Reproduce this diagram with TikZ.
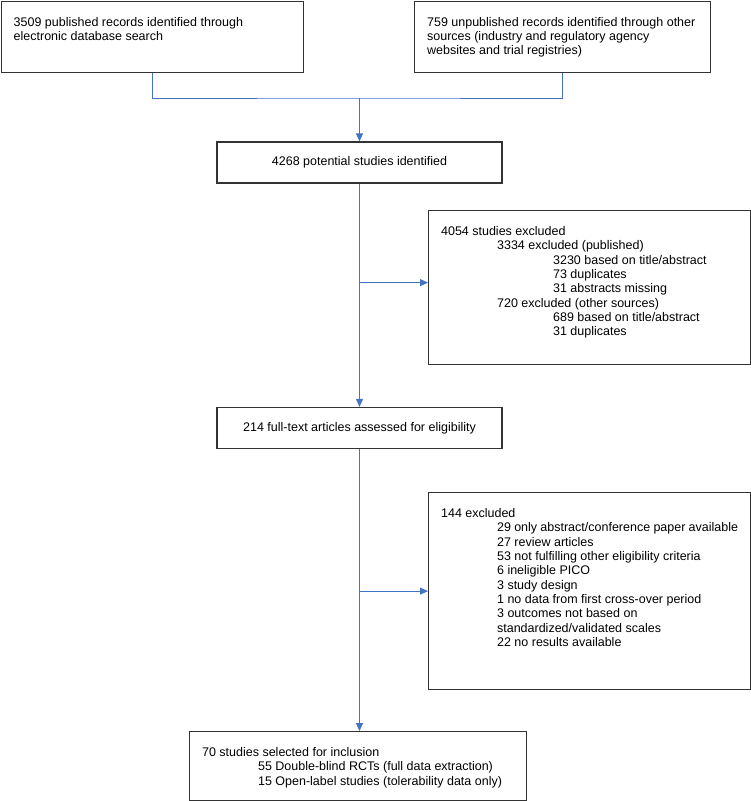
\documentclass[tikz,border=0pt]{standalone}
\usepackage{fontspec}
\setmainfont{Liberation Sans}
\usepackage{tikz}
\usetikzlibrary{arrows.meta,positioning}
\definecolor{boxline}{HTML}{333333}
\definecolor{flowblue}{HTML}{4472C4}
\tikzstyle{block} = [rectangle, draw=boxline, line width=1.2pt, inner xsep=12.5pt, inner ysep=0pt, anchor=north west]
\tikzstyle{midblock} = [rectangle, draw=boxline, line width=1.2pt, inner sep=0pt, minimum width=285pt, minimum height=41pt]
\tikzstyle{flow} = [draw=flowblue, line width=0.9pt]
\newcommand{\Boxtxt}[3]{\parbox[t][#2][t]{#1}{\vspace*{16pt}#3}}
\newcommand{\Ind}{\hspace*{56pt}}

\begin{document}
\begin{tikzpicture}[x=1pt, y=-1pt, >={Triangle[length=8pt,width=7pt]}, font=\fontsize{12.5}{14.3}\selectfont]
	\useasboundingbox (0,0) rectangle (751,801);
	\node[block] (pub) at (0.6,0.6) {\Boxtxt{277pt}{71pt}{3509 published records identified through\\electronic database search}};
	\node[block] (reg) at (414,0.6) {\Boxtxt{271pt}{71pt}{759 unpublished records identified through other\\sources (industry and regulatory agency\\websites and trial registries)}};
	\coordinate (join) at (359.5,98);
	\draw[flow] (pub.south) |- (join) -| (reg.south);
	\node[midblock] (pot) at (359.5,162.5) {4268 potential studies identified};
	\draw[flow,->] (join) -- (pot.north);
	\node[block] (excl) at (428,210) {\Boxtxt{297pt}{154pt}{4054 studies excluded\\
		\Ind 3334 excluded (published)\\
		\Ind\Ind 3230 based on title/abstract\\
		\Ind\Ind 73 duplicates\\
		\Ind\Ind 31 abstracts missing\\
		\Ind 720 excluded (other sources)\\
		\Ind\Ind 689 based on title/abstract\\
		\Ind\Ind 31 duplicates}};
	\node[midblock] (full) at (359.5,428) {214 full-text articles assessed for eligibility};
	\draw[flow,->] (pot.south) -- (full.north);
	\draw[flow,->] ([yshift=5pt]excl.west -| pot.south) -- ([yshift=5pt]excl.west);
	\node[block] (elig) at (428,492) {\Boxtxt{297pt}{197pt}{144 excluded\\
		\Ind 29 only abstract/conference paper available\\
		\Ind 27 review articles\\
		\Ind 53 not fulfilling other eligibility criteria\\
		\Ind 6 ineligible PICO\\
		\Ind 3 study design\\
		\Ind 1 no data from first cross-over period\\
		\Ind 3 outcomes not based on\\
		\Ind standardized/validated scales\\
		\Ind 22 no results available}};
	\node[block] (incl) at (189,731) {\Boxtxt{312pt}{69pt}{70 studies selected for inclusion\\
		\Ind 55 Double-blind RCTs (full data extraction)\\
		\Ind 15 Open-label studies (tolerability data only)}};
	\draw[flow,->] (full.south) -- (full.south |- incl.north);
	\draw[flow,->] (elig.west -| full.south) -- (elig.west);
\end{tikzpicture}
\end{document}
